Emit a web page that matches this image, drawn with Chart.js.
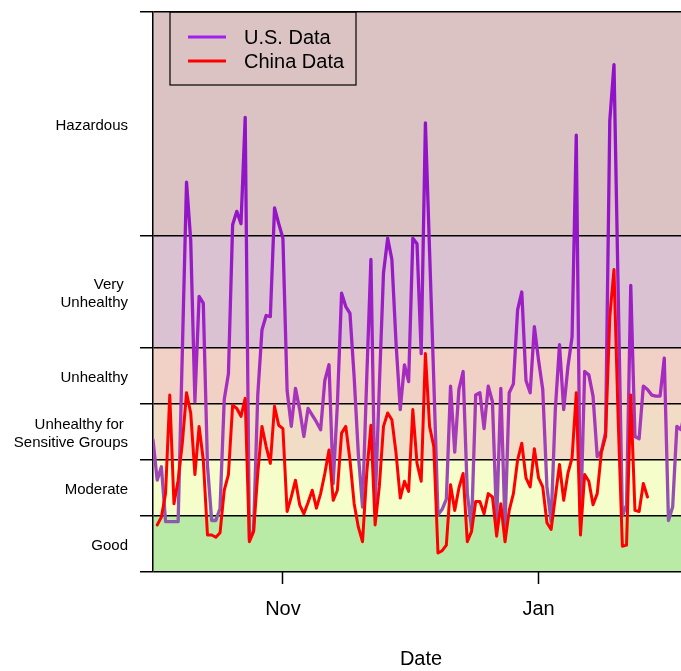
<!DOCTYPE html>
<html>
<head>
<meta charset="utf-8">
<title>Air quality, U.S. vs China data</title>
<script src="https://cdn.jsdelivr.net/npm/chart.js@4.4.1/dist/chart.umd.min.js"></script>
<style>
    html, body { margin: 0; padding: 0; background: #fff; overflow: hidden; }
    #aqiChart { display: block; }
</style>
</head>
<body>
<canvas id="aqiChart" width="700" height="671"></canvas>
<script>
// daily AQI readings, day 0 = Oct 1
const usStartDay = 0;
const usData = [
    118, 82, 94, 45, 45, 45, 45, 197, 348, 296,
    152, 246, 240, 95, 46, 46, 57, 154, 177, 310,
    322, 311, 406, 29, 37, 158, 216, 229, 228, 325,
    311, 298, 162, 130, 164, 145, 121, 146, 140, 134,
    127, 171, 185, 79, 150, 249, 237, 231, 174, 105,
    58, 173, 279, 58, 165, 267, 298, 279, 204, 145,
    185, 170, 298, 293, 195, 401, 286, 171, 51, 56,
    65, 166, 107, 163, 179, 70, 39, 158, 160, 128,
    166, 152, 44, 164, 41, 160, 168, 234, 250, 171,
    160, 219, 189, 163, 76, 45, 145, 203, 145, 183,
    210, 390, 41, 179, 176, 157, 103, 108, 125, 403,
    453, 250, 50, 60, 256, 121, 119, 166, 163, 158,
    157, 157, 191, 46, 58, 130, 127, 145
];

// China readings start one day later
const chinaStartDay = 1;
const chinaData = [
    42, 49, 70, 158, 61, 82, 115, 160, 142,
    87, 130, 100, 33, 33, 31, 35, 73, 87, 149,
    146, 139, 155, 27, 36, 88, 130, 112, 97, 148,
    131, 128, 54, 67, 82, 60, 52, 62, 73, 57,
    70, 88, 109, 64, 73, 124, 130, 100, 61, 40,
    27, 88, 131, 42, 76, 130, 142, 136, 106, 66,
    81, 72, 145, 97, 81, 195, 130, 112, 17, 19,
    24, 78, 55, 75, 88, 27, 36, 63, 63, 52,
    70, 67, 32, 61, 27, 55, 70, 100, 115, 84,
    76, 110, 84, 76, 44, 38, 67, 96, 64, 88,
    102, 160, 33, 87, 81, 60, 70, 107, 121, 228,
    270, 136, 23, 24, 158, 55, 54, 79, 67
];

// AQI categories
const bandLimits = [0, 50, 100, 150, 200, 300, 500];
const bandNames = ['Good', 'Moderate', ['Unhealthy for ', 'Sensitive Groups'], 'Unhealthy', ['Very ', 'Unhealthy'], 'Hazardous'];
const bandColors = ['#b9eba7', '#f5fdcb', '#f1dcc6', '#f1d1c6', '#dbc2d2', '#dbc3c4'];

// month ticks, in days since Oct 1
const monthTicks = [31, 92];
const monthLabels = ['Nov', 'Jan'];

Chart.defaults.font.family = "'Liberation Sans', Arial, sans-serif";
Chart.defaults.color = '#000';

const bandCenters = bandLimits.slice(1).map((hi, i) => (bandLimits[i] + hi) / 2);

function toPoints(values, startDay) {
    return values.map((v, i) => ({ x: startDay + i, y: v }));
}

// U.S. line gets darker / greyer towards the low end, like the original
function usLineColor(context) {
    const { ctx, chartArea, scales } = context.chart;
    if (!chartArea) return '#9014c8';
    const y = scales.y;
    const g = ctx.createLinearGradient(0, y.getPixelForValue(0), 0, y.getPixelForValue(500));
    g.addColorStop(0.00, '#8a62a8');
    g.addColorStop(0.10, '#8c5aae');
    g.addColorStop(0.20, '#a044b6');
    g.addColorStop(0.30, '#a834bc');
    g.addColorStop(0.40, '#a024c4');
    g.addColorStop(0.60, '#9416c8');
    g.addColorStop(1.00, '#8c10c8');
    return g;
}

const bandFill = {
    id: 'bandFill',
    beforeDraw(chart) {
        const { ctx, chartArea: a, scales: { y } } = chart;
        ctx.save();
        bandColors.forEach((c, i) => {
            const top = y.getPixelForValue(bandLimits[i + 1]);
            const bottom = y.getPixelForValue(bandLimits[i]);
            ctx.fillStyle = c;
            ctx.fillRect(a.left, top, a.right - a.left, bottom - top);
        });
        ctx.restore();
    }
};

const legendBox = {
    id: 'legendBox',
    afterDatasetsDraw(chart) {
        const { ctx, chartArea: a } = chart;
        const x = a.left + 17, y = a.top, w = 186, h = 73;
        ctx.save();
        ctx.strokeStyle = '#000';
        ctx.lineWidth = 1.2;
        ctx.strokeRect(x, y, w, h);
        ctx.font = "20px 'Liberation Sans', Arial, sans-serif";
        ctx.textBaseline = 'alphabetic';
        chart.data.datasets.forEach((ds, i) => {
            const rowY = y + 25 + i * 24;
            ctx.strokeStyle = ds.legendColor;
            ctx.lineWidth = 3;
            ctx.beginPath();
            ctx.moveTo(x + 18, rowY);
            ctx.lineTo(x + 56, rowY);
            ctx.stroke();
            ctx.fillStyle = '#000';
            ctx.fillText(ds.label, x + 74, rowY + 7);
        });
        ctx.restore();
    }
};

const ctx = document.getElementById('aqiChart').getContext('2d');
new Chart(ctx, {
    type: 'line',
    data: {
        datasets: [{
            label: 'U.S. Data',
            data: toPoints(usData, usStartDay),
            borderColor: usLineColor,
            legendColor: '#a020f0',
            borderWidth: 3.3,
            order: 1
        }, {
            label: 'China Data',
            data: toPoints(chinaData, chinaStartDay),
            borderColor: '#ff0000',
            legendColor: '#ff0000',
            borderWidth: 3,
            order: 0
        }]
    },
    options: {
        responsive: false,
        animation: false,
        devicePixelRatio: 1,
        layout: { padding: { top: 12, right: 11, bottom: 0, left: 0 } },
        elements: {
            point: { radius: 0 },
            line: { tension: 0, borderJoinStyle: 'round', borderCapStyle: 'round' }
        },
        plugins: {
            legend: { display: false },
            tooltip: { enabled: false }
        },
        scales: {
            x: {
                type: 'linear',
                min: 0,
                max: 127.9,
                afterBuildTicks: scale => {
                    scale.ticks = monthTicks.map(v => ({ value: v }));
                },
                afterFit: scale => {
                    scale.height = 99;
                    scale.paddingLeft = 0;
                    scale.paddingRight = 0;
                },
                ticks: {
                    autoSkip: false,
                    maxRotation: 0,
                    padding: 13,
                    font: { size: 20 },
                    callback: value => monthLabels[monthTicks.indexOf(value)]
                },
                grid: {
                    drawOnChartArea: false,
                    drawTicks: true,
                    tickLength: 12,
                    tickColor: '#000',
                    tickWidth: 1.5
                },
                border: { display: false },
                title: {
                    display: true,
                    text: 'Date',
                    font: { size: 20 },
                    padding: { top: 0, bottom: 0 }
                }
            },
            y: {
                min: 0,
                max: 500,
                afterBuildTicks: scale => {
                    const vals = bandLimits.concat(bandCenters).sort((a, b) => a - b);
                    scale.ticks = vals.map(v => ({ value: v }));
                },
                afterFit: scale => {
                    scale.width = 153;
                    scale.paddingTop = 0;
                    scale.paddingBottom = 0;
                },
                ticks: {
                    autoSkip: false,
                    padding: 12,
                    labelOffset: 2,
                    font: { size: 15, lineHeight: 1.2 },
                    callback: value => {
                        const i = bandCenters.indexOf(value);
                        return i >= 0 ? bandNames[i] : '';
                    }
                },
                grid: {
                    color: c => bandLimits.includes(c.tick.value) ? '#000' : 'rgba(0,0,0,0)',
                    tickColor: c => bandLimits.includes(c.tick.value) ? '#000' : 'rgba(0,0,0,0)',
                    lineWidth: 1.5,
                    tickLength: 13
                },
                border: { display: true, color: '#000', width: 1.5 }
            }
        }
    },
    plugins: [bandFill, legendBox]
});
</script>
</body>
</html>
